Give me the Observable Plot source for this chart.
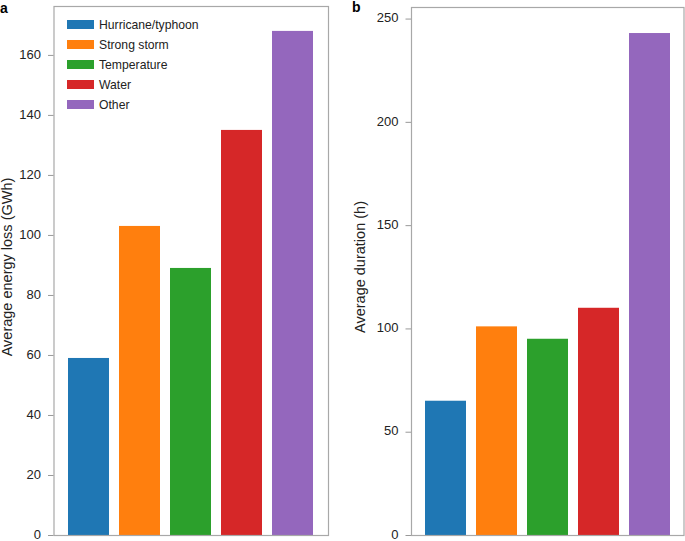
<!DOCTYPE html>
<html><head><meta charset="utf-8">
<script src="https://cdn.jsdelivr.net/npm/d3@7"></script>
<script src="https://cdn.jsdelivr.net/npm/@observablehq/plot@0.6"></script>
<style>
body{margin:0;background:#fff;font-family:"Liberation Sans",Arial,sans-serif;}
#wrap{position:relative;width:685px;height:541px;overflow:hidden;background:#fff}
.panel{position:absolute;top:0}
.plab{position:absolute;font-weight:bold;font-size:14px;color:#000;line-height:1}
.ylab{position:absolute;font-size:14.5px;line-height:1;color:#222;white-space:nowrap;transform:translate(-50%,-50%) rotate(-90deg)}
#legend{position:absolute;left:66.5px;top:14.7px;font-size:12.2px;color:#222}
.row{display:flex;align-items:center;height:20px}
.sw{width:27px;height:9px;margin-right:5.5px}
</style></head><body><div id="wrap"></div>
<script>
const causes = ["Hurricane/typhoon","Strong storm","Temperature","Water","Other"];
const colors = ["#1f77b4","#ff7f0e","#2ca02c","#d62728","#9467bd"];
const energyLoss = [59,103,89,135,168];
const duration = [65,101,95,110,243];
const ticksA = [0,20,40,60,80,100,120,140,160];
const ticksB = [0,50,100,150,200,250];

const wrap = document.getElementById("wrap");

function panel(values, ticks, yMax, opts) {
  const data = causes.map((c, i) => ({cause: c, value: values[i]}));
  return Plot.plot({
    width: opts.width, height: 541,
    marginLeft: opts.ml, marginRight: opts.mr, marginTop: opts.mt, marginBottom: opts.mb,
    style: {fontFamily: "Liberation Sans, Arial, sans-serif", fontSize: "13px", color: "#222", background: "#fff"},
    x: {domain: causes, paddingInner: 0.2, paddingOuter: 0.25, axis: null},
    y: {domain: [0, yMax]},
    color: {domain: causes, range: colors},
    marks: [
      Plot.barY(data, {x: "cause", y: "value", fill: "cause"}),
      Plot.frame({stroke: "#a8a8a8", strokeWidth: 1.2}),
      Plot.axisY({ticks: ticks, tickSize: 5.5, stroke: "#999", tickFormat: () => "", label: null}),
      Plot.axisY({ticks: ticks, tickSize: 0, tickPadding: 13, fill: "#222",
        label: null, fontSize: 13, dy: -1})
    ]
  });
}

const a = panel(energyLoss, ticksA, 176.3, {width: 340, ml: 53.5, mr: 12, mt: 6, mb: 6});
a.classList.add("panel"); a.style.left = "0px";
wrap.appendChild(a);

const b = panel(duration, ticksB, 255.6, {width: 345, ml: 71, mr: 1.5, mt: 7, mb: 6});
b.classList.add("panel"); b.style.left = "340px";
wrap.appendChild(b);

function addLabel(text, x, y) {
  const d = document.createElement("div"); d.className = "ylab"; d.textContent = text;
  d.style.left = x + "px"; d.style.top = y + "px"; wrap.appendChild(d);
}
addLabel("Average energy loss (GWh)", 7, 266.7);
addLabel("Average duration (h)", 360.4, 267);

const la = document.createElement("div"); la.className = "plab"; la.textContent = "a";
la.style.left = "0px"; la.style.top = "1px"; wrap.appendChild(la);
const lb = document.createElement("div"); lb.className = "plab"; lb.textContent = "b";
lb.style.left = "352px"; lb.style.top = "0px"; wrap.appendChild(lb);

const legend = document.createElement("div"); legend.id = "legend";
causes.forEach((c, i) => {
  const row = document.createElement("div"); row.className = "row";
  const sw = document.createElement("div"); sw.className = "sw"; sw.style.background = colors[i];
  const t = document.createElement("span"); t.textContent = c;
  row.appendChild(sw); row.appendChild(t); legend.appendChild(row);
});
wrap.appendChild(legend);
</script></body></html>
